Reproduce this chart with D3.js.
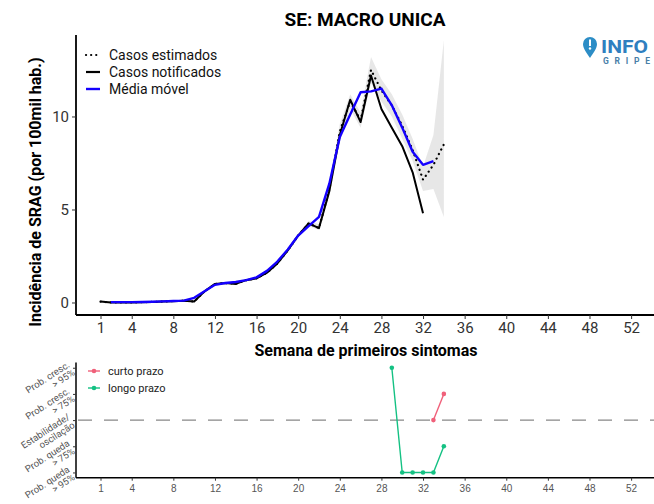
<!DOCTYPE html>
<html><head><meta charset="utf-8">
<script src="https://cdn.jsdelivr.net/npm/d3@7"></script>
<style>body{margin:0;background:#fff}svg{display:block;font-family:Roboto,"Open Sans",sans-serif}</style>
</head><body><svg id="c" width="654" height="504"></svg>
<script>
const weeks = d3.range(1, 35);
const notified = [0.05,0.0,0.0,0.0,0.02,0.03,0.05,0.07,0.1,0.05,0.6,1.0,1.05,1.0,1.2,1.3,1.6,2.1,2.8,3.6,4.25,4.0,6.0,9.0,10.9,9.7,12.2,10.4,9.4,8.4,7.0,4.8];
const estimated = [0.05,0.0,0.0,0.0,0.02,0.03,0.05,0.07,0.1,0.05,0.6,1.0,1.05,1.0,1.2,1.3,1.6,2.1,2.8,3.6,4.25,4.0,6.1,9.2,10.8,9.8,12.5,11.4,10.6,9.5,8.2,6.6,7.4,8.5];
const ciLow  = [0.05,0.0,0.0,0.0,0.02,0.03,0.05,0.07,0.1,0.05,0.6,1.0,1.05,1.0,1.2,1.3,1.6,2.1,2.75,3.5,4.1,3.9,5.8,8.6,10.4,9.4,11.8,10.8,10.0,8.8,7.6,6.0,6.1,4.6];
const ciHigh = [0.05,0.0,0.0,0.0,0.02,0.03,0.05,0.07,0.1,0.05,0.6,1.0,1.05,1.0,1.2,1.3,1.6,2.1,2.85,3.7,4.4,4.2,6.4,9.6,11.2,10.2,13.2,12.0,11.2,10.1,8.8,7.3,9.0,14.1];
const movAvgWeeks = d3.range(2, 34);
const movAvg = [0.02,0.02,0.02,0.03,0.04,0.06,0.08,0.1,0.25,0.6,0.95,1.05,1.1,1.2,1.35,1.7,2.2,2.85,3.6,4.1,4.6,6.4,8.9,10.1,11.3,11.35,11.5,10.6,9.4,8.1,7.4,7.6];
const xTicks = [1,4,8,12,16,20,24,28,32,36,40,44,48,52];
const yTicks = [0,5,10];
const shortWeeks = [33,34];
const shortLevel = [0,1];
const longWeeks = [29,30,31,32,33,34];
const longLevel = [2,-2,-2,-2,-2,-1];
const levelLabels = [["Prob. queda","> 95%"],["Prob. queda","> 75%"],["Estabilidade/","oscilação"],["Prob. cresc.","> 75%"],["Prob. cresc.","> 95%"]];
const levels = [-2,-1,0,1,2];

const svg = d3.select("#c");
const x = d3.scaleLinear().domain([-1.356, 54.2]).range([76, 654]);
const y = d3.scaleLinear().domain([-0.672, 14.38]).range([315, 35]);

// ribbon
const ci = weeks.map((w,i)=>({w, lo:ciLow[i], hi:ciHigh[i]}));
svg.append("path").datum(ci)
  .attr("d", d3.area().x(d=>x(d.w)).y0(d=>y(d.lo)).y1(d=>y(d.hi)))
  .attr("fill","#c4c4c4").attr("opacity",0.4);

// notified
svg.append("path").datum(notified.map((v,i)=>[weeks[i],v]))
  .attr("d", d3.line().x(d=>x(d[0])).y(d=>y(d[1])))
  .attr("fill","none").attr("stroke","#000").attr("stroke-width",2).attr("stroke-linejoin","round");
// estimated dotted
svg.append("path").datum(estimated.map((v,i)=>[weeks[i],v]))
  .attr("d", d3.line().x(d=>x(d[0])).y(d=>y(d[1])))
  .attr("fill","none").attr("stroke","#000").attr("stroke-width",2.2)
  .attr("stroke-dasharray","0.1 5").attr("stroke-linecap","round");
// moving average
svg.append("path").datum(movAvg.map((v,i)=>[movAvgWeeks[i],v]))
  .attr("d", d3.line().x(d=>x(d[0])).y(d=>y(d[1])))
  .attr("fill","none").attr("stroke","#1400ff").attr("stroke-width",2.4).attr("stroke-linejoin","round");

// axes main
const gx = svg.append("g").attr("transform","translate(0,315)")
  .call(d3.axisBottom(x).tickValues(xTicks).tickSize(4).tickPadding(3).tickFormat(d3.format("d")));
const gy = svg.append("g").attr("transform","translate(76,0)")
  .call(d3.axisLeft(y).tickValues(yTicks).tickSize(4).tickPadding(3));
[gx,gy].forEach(g=>{
  g.select(".domain").attr("stroke","#000").attr("stroke-width",1.8);
  g.selectAll(".tick line").attr("stroke","#333");
  g.selectAll(".tick text").attr("fill","#333").style("font-size","15px").style("font-family","Roboto");
});
gy.select(".domain").attr("d","M0,35V315");
gx.select(".domain").attr("d","M76,0H654");

// titles
svg.append("text").attr("x",365).attr("y",26).attr("text-anchor","middle")
  .style("font-size","19px").style("font-weight","bold").text("SE: MACRO UNICA");
svg.append("text").attr("x",366).attr("y",356).attr("text-anchor","middle")
  .style("font-size","16px").style("font-weight","bold").text("Semana de primeiros sintomas");
svg.append("text").attr("transform","translate(41,192) rotate(-90)").attr("text-anchor","middle")
  .style("font-size","16px").style("font-weight","bold").text("Incidência de SRAG (por 100mil hab.)");

// legend main
const leg = [
  {t:"Casos estimados", s:"#000", dash:"0.1 5", w:2.2},
  {t:"Casos notificados", s:"#000", dash:null, w:2.2},
  {t:"Média móvel", s:"#1400ff", dash:null, w:2.4}
];
leg.forEach((d,i)=>{
  const yy = 55 + i*17;
  svg.append("line").attr("x1",86).attr("x2",100).attr("y1",yy).attr("y2",yy)
    .attr("stroke",d.s).attr("stroke-width",d.w).attr("stroke-dasharray",d.dash)
    .attr("stroke-linecap",d.dash?"round":"butt");
  svg.append("text").attr("x",109).attr("y",yy+5).style("font-size","14px").attr("fill","#111").text(d.t);
});

// logo
const logo = svg.append("g");
logo.append("path").attr("d","M590,37 a7,7 0 0 1 7,7 c0,5 -4,9 -7,14 c-3,-5 -7,-9 -7,-14 a7,7 0 0 1 7,-7z").attr("fill","#2c8dc6");
logo.append("rect").attr("x",589).attr("y",39.5).attr("width",2).attr("height",6.5).attr("fill","#fff");
logo.append("circle").attr("cx",590).attr("cy",48.5).attr("r",1.2).attr("fill","#fff");
logo.append("text").attr("x",601).attr("y",53).style("font-size","18px").style("font-weight","bold")
  .attr("fill","#2f7fc0").attr("textLength",47).attr("lengthAdjust","spacingAndGlyphs").text("INFO");
logo.append("text").attr("x",603).attr("y",64).style("font-size","8.5px").style("font-weight","bold")
  .attr("fill","#4a7fa8").attr("textLength",47).text("GRIPE");

// bottom panel
const x2 = x;
const y2 = d3.scaleLinear().domain([-2.2,2.2]).range([477.7,362.5]);
svg.append("line").attr("x1",76).attr("x2",654).attr("y1",y2(0)).attr("y2",y2(0))
  .attr("stroke","#888").attr("stroke-width",1.2).attr("stroke-dasharray","14 12").attr("stroke-dashoffset",-2);

const gx2 = svg.append("g").attr("transform","translate(0,477.7)")
  .call(d3.axisBottom(x2).tickValues(xTicks).tickSize(3).tickPadding(4).tickFormat(d3.format("d")));
const gy2 = svg.append("g").attr("transform","translate(76,0)")
  .call(d3.axisLeft(y2).tickValues(levels).tickSize(3).tickFormat(""));
[gx2,gy2].forEach(g=>{
  g.select(".domain").attr("stroke","#000").attr("stroke-width",1.5);
  g.selectAll(".tick line").attr("stroke","#333");
  g.selectAll(".tick text").attr("fill","#555").style("font-size","10px");
});
gy2.select(".domain").attr("d","M0,362.5V477.7");
gx2.select(".domain").attr("d","M76,0H654");

levels.forEach((lv,i)=>{
  const t = svg.append("text").attr("transform",`translate(72,${y2(lv)+1}) rotate(-33)`)
    .attr("text-anchor","end").style("font-size","9.5px").attr("fill","#555");
  t.append("tspan").attr("x",0).attr("dy","-0.3em").text(levelLabels[i][0]);
  t.append("tspan").attr("x",0).attr("dy","1.0em").text(levelLabels[i][1]);
});

const red = "#f0607a", green = "#14c183";
function series(ws, ls, col){
  const pts = ws.map((w,i)=>[w, ls[i]]);
  svg.append("path").datum(pts).attr("d", d3.line().x(d=>x2(d[0])).y(d=>y2(d[1])))
    .attr("fill","none").attr("stroke",col).attr("stroke-width",1.4);
  svg.selectAll(null).data(pts).enter().append("circle")
    .attr("cx",d=>x2(d[0])).attr("cy",d=>y2(d[1])).attr("r",2.3).attr("fill",col);
}
series(longWeeks, longLevel, green);
series(shortWeeks, shortLevel, red);

[{t:"curto prazo",c:red},{t:"longo prazo",c:green}].forEach((d,i)=>{
  const yy = 371 + i*17;
  svg.append("line").attr("x1",88).attr("x2",100).attr("y1",yy).attr("y2",yy).attr("stroke",d.c).attr("stroke-width",1.4);
  svg.append("circle").attr("cx",94).attr("cy",yy).attr("r",2.3).attr("fill",d.c);
  svg.append("text").attr("x",108).attr("y",yy+4).style("font-size","11px").attr("fill","#222").text(d.t);
});
</script></body></html>
